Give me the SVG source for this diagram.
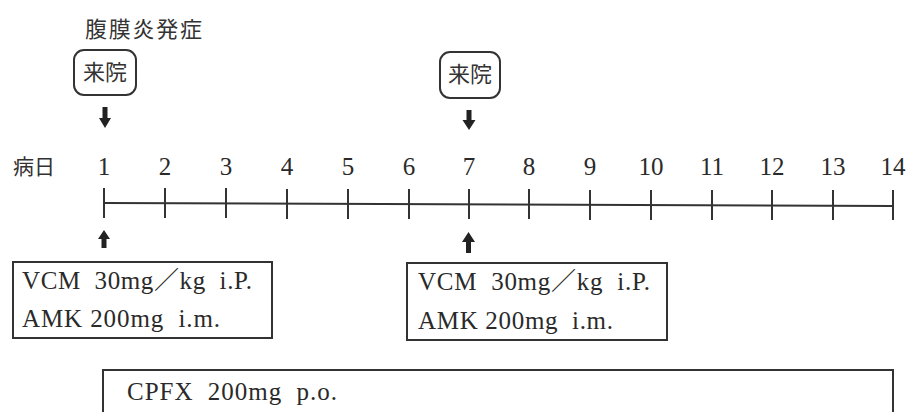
<svg xmlns="http://www.w3.org/2000/svg" width="912" height="412" viewBox="0 0 912 412">
<style>
.t{font-family:"Liberation Serif","Noto Sans CJK JP",serif;fill:#2a2a2a}
.j{font-family:"Noto Sans CJK JP","Liberation Serif",sans-serif;fill:#333}
.n{font-family:"Liberation Serif",serif;fill:#2a2a2a;font-size:25px;text-anchor:middle}
.d{font-size:25px}
.box{fill:#fff;stroke:#333;stroke-width:2}
.ln{stroke:#333;stroke-width:2;fill:none}
.ar{fill:#222}
</style>
<rect width="912" height="412" fill="#fff"/>
<g id="onset">
<text class="j" x="85" y="37" font-size="22" textLength="117">腹膜炎発症</text>
</g>
<g id="visit1">
<rect class="box" x="74" y="50" width="62" height="45" rx="10"/>
<text class="j" x="105" y="80" font-size="22" text-anchor="middle">来院</text>
</g>
<g id="visit2">
<rect class="box" x="440" y="52" width="60" height="46" rx="10"/>
<text class="j" x="470" y="82" font-size="22" text-anchor="middle">来院</text>
</g>
<g id="axis-label">
<text class="j" x="13" y="174" font-size="21">病日</text>
</g>
<g id="day-numbers">
<text class="n" x="104" y="175">1</text>
<text class="n" x="165" y="175">2</text>
<text class="n" x="226" y="175">3</text>
<text class="n" x="287" y="175">4</text>
<text class="n" x="348" y="175">5</text>
<text class="n" x="409" y="175">6</text>
<text class="n" x="469" y="175">7</text>
<text class="n" x="529" y="175">8</text>
<text class="n" x="590" y="175">9</text>
<text class="n" x="651" y="175">10</text>
<text class="n" x="712" y="175">11</text>
<text class="n" x="772" y="175">12</text>
<text class="n" x="833" y="175">13</text>
<text class="n" x="893" y="175">14</text>
</g>
<g id="timeline">
<line class="ln" x1="104" y1="203" x2="893" y2="206"/>
<path class="ln" d="M104 188V218M165 188V218M226 188V218M287 189V219M348 189V219M409 189V219M469 189V219M529 189V219M590 190V220M651 190V220M712 190V220M772 190V220M833 190V220M893 190V220"/>
</g>
<g id="connectors">
<polygon class="ar" points="102.5,107 107.5,107 107.5,118 111,118 105,128 99,118 102.5,118"/>
<polygon class="ar" points="466.5,110 471.5,110 471.5,120 475.5,120 469,130 462.5,120 466.5,120"/>
<polygon class="ar" points="101.5,248 106.5,248 106.5,239 110,239 104,230 98,239 101.5,239"/>
<polygon class="ar" points="466,253 471,253 471,242 475,242 468.5,232 462,242 466,242"/>
</g>
<g id="dose1">
<rect class="box" x="13" y="262" width="259" height="76"/>
<text class="t d" x="22" y="289" xml:space="preserve" textLength="230">VCM  30mg／kg  i.P.</text>
<text class="t d" x="22" y="327" xml:space="preserve" textLength="198">AMK 200mg  i.m.</text>
</g>
<g id="dose7">
<rect class="box" x="407" y="263" width="260" height="77"/>
<text class="t d" x="418" y="290" xml:space="preserve" textLength="232">VCM  30mg／kg  i.P.</text>
<text class="t d" x="418" y="329" xml:space="preserve" textLength="195">AMK 200mg  i.m.</text>
</g>
<g id="cpfx">
<rect class="box" x="103" y="370" width="790" height="60"/>
<text class="t d" x="127" y="400" xml:space="preserve" textLength="210">CPFX  200mg  p.o.</text>
</g>
</svg>
